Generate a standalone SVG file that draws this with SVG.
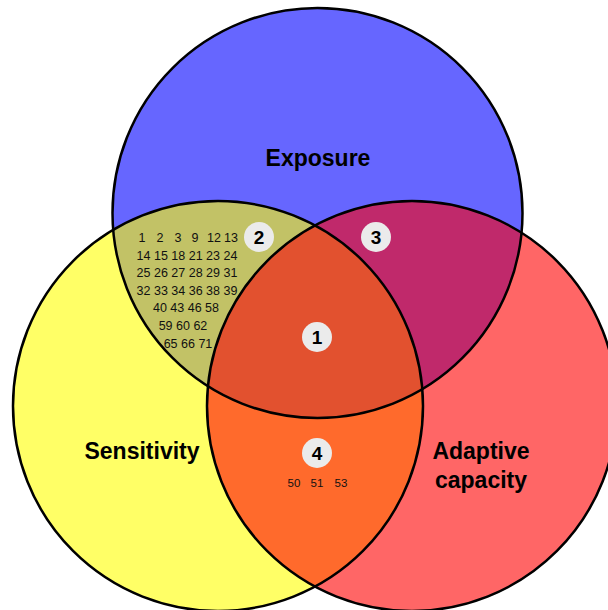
<svg xmlns="http://www.w3.org/2000/svg" width="608" height="610" viewBox="0 0 608 610">
<style>
.lbl{font-family:"Liberation Sans",Arial,sans-serif;font-weight:bold;font-size:23px;fill:#000;text-anchor:middle}
.num{font-family:"Liberation Sans",Arial,sans-serif;font-size:12.5px;fill:#111;text-anchor:middle}
.sm{font-family:"Liberation Sans",Arial,sans-serif;font-size:11.5px;fill:#111;text-anchor:middle}
.badge circle{fill:#EBEBEB;stroke:none}
.badge text{font-family:"Liberation Sans",Arial,sans-serif;font-weight:bold;font-size:19px;fill:#000;text-anchor:middle}
.ring{fill:none;stroke:#000;stroke-width:2.5}
</style>
<defs>
<clipPath id="cT"><circle cx="317.5" cy="213" r="205"/></clipPath>
<clipPath id="cL"><circle cx="218" cy="406" r="205"/></clipPath>
<clipPath id="cR"><circle cx="412" cy="406" r="205"/></clipPath>
</defs>
<rect width="608" height="610" fill="#fff"/>
<g id="fills">
<circle cx="317.5" cy="213" r="205" fill="#6666FF"/>
<circle cx="218" cy="406" r="205" fill="#FFFF66"/>
<circle cx="412" cy="406" r="205" fill="#FF6666"/>
<g clip-path="url(#cT)"><circle cx="218" cy="406" r="205" fill="#C2C266"/></g>
<g clip-path="url(#cT)"><circle cx="412" cy="406" r="205" fill="#C0296B"/></g>
<g clip-path="url(#cL)"><circle cx="412" cy="406" r="205" fill="#FF6A2C"/></g>
<g clip-path="url(#cL)"><g clip-path="url(#cR)"><circle cx="317.5" cy="213" r="205" fill="#E2512F"/></g></g>
</g>
<g id="exposure"><circle class="ring" cx="317.5" cy="213" r="205"/><text class="lbl" x="318" y="166">Exposure</text></g>
<g id="sensitivity"><circle class="ring" cx="218" cy="406" r="205"/><text class="lbl" x="142" y="459">Sensitivity</text></g>
<g id="adaptive"><circle class="ring" cx="412" cy="406" r="205"/><text class="lbl" x="481" y="459">Adaptive</text><text class="lbl" x="481" y="488">capacity</text></g>
<g id="region2">
<g class="num">
<text x="142" y="242">1</text><text x="160" y="242">2</text><text x="178" y="242">3</text><text x="195" y="242">9</text><text x="214" y="242">12</text><text x="231" y="242">13</text>
<text x="187" y="260">14 15 18 21 23 24</text>
<text x="187" y="277">25 26 27 28 29 31</text>
<text x="187" y="295">32 33 34 36 38 39</text>
<text x="186" y="312">40 43 46 58</text>
<text x="183" y="330">59 60 62</text>
<text x="188" y="348">65 66 71</text>
</g>
<g class="badge"><circle cx="259" cy="237" r="15"/><text x="259" y="244">2</text></g>
</g>
<g id="region3" class="badge"><circle cx="376" cy="237" r="15"/><text x="376" y="244">3</text></g>
<g id="region1" class="badge"><circle cx="317" cy="337" r="15"/><text x="317" y="344">1</text></g>
<g id="region4">
<g class="badge"><circle cx="317" cy="453" r="15"/><text x="317" y="460">4</text></g>
<text class="sm" x="294" y="487">50</text><text class="sm" x="317" y="487">51</text><text class="sm" x="341" y="487">53</text>
</g>
<g id="connectors"/>
</svg>
